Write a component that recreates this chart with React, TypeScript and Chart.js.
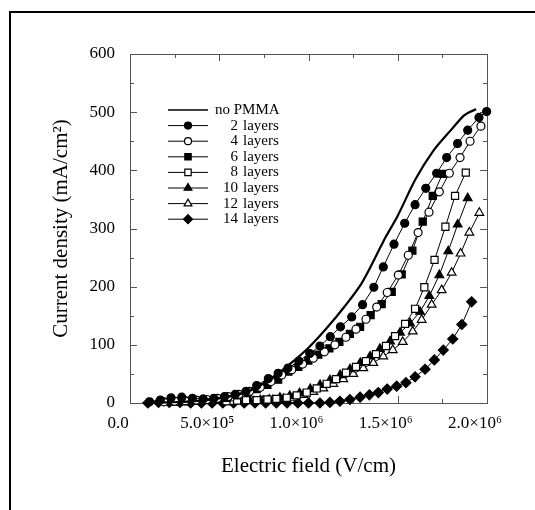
import React, { useEffect, useRef } from 'react';
import { Chart, registerables } from 'chart.js';
import { drawPoint } from 'chart.js/helpers';

Chart.register(...registerables);

const FONT = '"Liberation Serif", "Times New Roman", serif';

// X axis in units of 10^6 V/cm
const xTickLabels = ['0.0', '5.0×10⁵', '1.0×10⁶', '1.5×10⁶', '2.0×10⁶'];
const xMinorTicks = [0.25, 0.75, 1.25, 1.75];
const yMinorTicks = [50, 150, 250, 350, 450, 550];

const seriesLabels = ['no PMMA', '2 layers', '4 layers', '6 layers', '8 layers', '10 layers', '12 layers', '14 layers'];

const E0 = [0.1, 0.2, 0.3, 0.4, 0.5, 0.6, 0.7, 0.8, 0.9, 1.0, 1.1, 1.2, 1.3, 1.41, 1.43, 1.5, 1.6, 1.7, 1.8, 1.87, 1.9, 1.94];
const J0 = [0, 1, 2, 4, 8, 14, 25, 44, 68, 95, 128, 165, 207, 272, 284, 322, 385, 434, 470, 494, 500, 505];

const E2 = [0.11, 0.17, 0.23, 0.29, 0.35, 0.41, 0.47, 0.53, 0.59, 0.65, 0.71, 0.775, 0.83, 0.885, 0.946, 1.007, 1.064, 1.122, 1.179, 1.242, 1.303, 1.366, 1.419, 1.479, 1.539, 1.597, 1.657, 1.718, 1.774, 1.835, 1.892, 1.955, 1.998];
const J2 = [2, 5, 9, 10, 8, 7, 8, 11, 15, 20, 30, 42, 51, 60, 72, 85, 98, 114, 131, 148, 169, 199, 234, 273, 309, 341, 369, 395, 422, 446, 469, 491, 501];

const E4 = [0.19, 0.25, 0.31, 0.37, 0.43, 0.49, 0.55, 0.61, 0.67, 0.73, 0.79, 0.85, 0.906, 0.967, 1.027, 1.089, 1.148, 1.21, 1.266, 1.322, 1.382, 1.441, 1.503, 1.559, 1.614, 1.675, 1.733, 1.789, 1.849, 1.905, 1.966];
const J4 = [2, 3, 4, 5, 6, 8, 11, 15, 20, 27, 37, 48, 57, 67, 77, 88, 100, 113, 127, 144, 165, 190, 220, 254, 293, 328, 363, 395, 422, 450, 476];

const E6 = [0.25, 0.31, 0.37, 0.43, 0.48, 0.54, 0.6, 0.66, 0.71, 0.77, 0.83, 0.887, 0.943, 0.999, 1.055, 1.117, 1.173, 1.232, 1.289, 1.348, 1.41, 1.466, 1.522, 1.582, 1.64, 1.696, 1.751];
const J6 = [2, 3, 4, 5, 7, 9, 13, 18, 24, 31, 40, 54, 62, 73, 83, 94, 105, 119, 131, 151, 170, 191, 221, 262, 312, 356, 394];

const E8 = [0.54, 0.6, 0.65, 0.71, 0.77, 0.82, 0.878, 0.934, 0.99, 1.046, 1.102, 1.154, 1.21, 1.266, 1.322, 1.378, 1.434, 1.485, 1.541, 1.597, 1.649, 1.706, 1.767, 1.821, 1.881];
const J8 = [3, 4, 5, 5, 6, 7, 9, 13, 18, 25, 33, 41, 52, 62, 72, 84, 98, 115, 136, 162, 199, 246, 303, 356, 396];

const E10 = [0.61, 0.67, 0.73, 0.78, 0.84, 0.895, 0.95, 1.01, 1.065, 1.12, 1.177, 1.233, 1.29, 1.345, 1.4, 1.457, 1.513, 1.569, 1.625, 1.677, 1.733, 1.783, 1.836, 1.892];
const J10 = [3, 4, 5, 6, 9, 12, 17, 24, 31, 39, 48, 58, 69, 80, 93, 106, 121, 137, 157, 184, 220, 261, 307, 352];

const E12 = [0.575, 0.63, 0.69, 0.745, 0.8, 0.86, 0.915, 0.971, 1.027, 1.083, 1.139, 1.195, 1.251, 1.307, 1.363, 1.419, 1.472, 1.528, 1.584, 1.634, 1.69, 1.746, 1.802, 1.852, 1.901, 1.957];
const J12 = [2, 3, 3, 4, 5, 7, 9, 14, 19, 25, 33, 41, 50, 60, 69, 80, 91, 105, 123, 143, 169, 194, 224, 257, 293, 327];

const E14 = [0.1, 0.16, 0.22, 0.28, 0.34, 0.4, 0.46, 0.52, 0.58, 0.64, 0.7, 0.76, 0.82, 0.88, 0.94, 1.0, 1.064, 1.12, 1.176, 1.232, 1.289, 1.341, 1.391, 1.441, 1.494, 1.546, 1.597, 1.653, 1.705, 1.755, 1.808, 1.859, 1.914];
const J14 = [0, 1, 1, 1, 0, 0, 0, 0, 0, 0, 0, 0, 0, 0, 0, 0, 0, 1, 3, 6, 10, 14, 18, 24, 29, 35, 45, 58, 74, 91, 110, 135, 174];

const seriesE = [E0, E2, E4, E6, E8, E10, E12, E14];
const seriesJ = [J0, J2, J4, J6, J8, J10, J12, J14];
const pointStyles = ['line', 'circle', 'circle', 'rect', 'rect', 'triangle', 'triangle', 'rectRot'];
const pointFilled = [true, true, false, true, false, true, false, true];
const pointRadii = [0, 4, 4, 5, 5, 5, 5, 5];

const framePlugin = {
  id: 'frameTicks',
  beforeDatasetsDraw(chart: any) {
    const { ctx, chartArea: a, scales } = chart;
    const x = scales.x;
    const y = scales.y;
    ctx.save();
    ctx.strokeStyle = '#555';
    ctx.lineWidth = 1;
    ctx.strokeRect(Math.round(a.left) + 0.5, Math.round(a.top) + 0.5, Math.round(a.right - a.left), Math.round(a.bottom - a.top));
    const drawX = (v: number, len: number) => {
      const px = Math.round(x.getPixelForValue(v)) + 0.5;
      ctx.beginPath();
      ctx.moveTo(px, a.bottom); ctx.lineTo(px, a.bottom - len);
      ctx.moveTo(px, a.top); ctx.lineTo(px, a.top + len);
      ctx.stroke();
    };
    const drawY = (v: number, len: number) => {
      const py = Math.round(y.getPixelForValue(v)) + 0.5;
      ctx.beginPath();
      ctx.moveTo(a.left, py); ctx.lineTo(a.left + len, py);
      ctx.moveTo(a.right, py); ctx.lineTo(a.right - len, py);
      ctx.stroke();
    };
    x.ticks.forEach((t: any) => drawX(t.value, 7));
    xMinorTicks.forEach((v) => drawX(v, 4));
    y.ticks.forEach((t: any) => drawY(t.value, 7));
    yMinorTicks.forEach((v) => drawY(v, 4));
    ctx.restore();
  },
};

const legendPlugin = {
  id: 'insideLegend',
  afterDraw(chart: any) {
    const { ctx, chartArea: a } = chart;
    const left = a.left + 38;
    const top = a.top + 56;
    const rowH = 15.6;
    ctx.save();
    ctx.font = `15px ${FONT}`;
    ctx.textBaseline = 'middle';
    ctx.fillStyle = '#000';
    chart.data.datasets.forEach((ds: any, i: number) => {
      const yy = top + i * rowH;
      ctx.strokeStyle = '#000';
      ctx.lineWidth = i === 0 ? 1.5 : 1;
      ctx.beginPath();
      ctx.moveTo(left, yy);
      ctx.lineTo(left + 40, yy);
      ctx.stroke();
      if (pointRadii[i] > 0) {
        ctx.fillStyle = pointFilled[i] ? '#000' : '#fff';
        ctx.strokeStyle = '#000';
        ctx.lineWidth = 1.2;
        drawPoint(ctx, { pointStyle: pointStyles[i], radius: pointRadii[i] - 0.5, rotation: 0, borderWidth: 1.2 }, left + 20, yy);
      }
      ctx.fillStyle = '#000';
      const label: string = ds.label;
      if (i === 0) {
        ctx.textAlign = 'left';
        ctx.fillText(label, left + 47, yy);
      } else {
        const parts = label.split(' ');
        ctx.textAlign = 'right';
        ctx.fillText(parts[0], left + 70, yy);
        ctx.textAlign = 'left';
        ctx.fillText(parts[1], left + 75, yy);
      }
    });
    ctx.restore();
  },
};

export default function App() {
  const ref = useRef<HTMLCanvasElement | null>(null);
  useEffect(() => {
    if (!ref.current) return;
    const datasets = seriesLabels.map((label, i) => ({
      label,
      data: seriesE[i].map((e, k) => ({ x: e, y: seriesJ[i][k] })),
      borderColor: '#000',
      borderWidth: i === 0 ? 2.2 : 1,
      backgroundColor: pointFilled[i] ? '#000' : '#fff',
      pointStyle: pointStyles[i] === 'line' ? 'circle' : pointStyles[i],
      pointRadius: pointRadii[i],
      pointBorderWidth: 1.2,
      pointBorderColor: '#000',
      pointBackgroundColor: pointFilled[i] ? '#000' : '#fff',
      showLine: true,
      tension: i === 0 ? 0.3 : 0,
      clip: false as any,
    }));
    const chart = new Chart(ref.current, {
      type: 'line',
      data: { datasets },
      options: {
        responsive: false,
        animation: false,
        devicePixelRatio: 1,
        layout: { padding: { left: 30, top: 54, right: 48, bottom: 17 } },
        plugins: { legend: { display: false }, tooltip: { enabled: false } },
        scales: {
          x: {
            type: 'linear',
            min: 0,
            max: 2,
            afterFit: (s: any) => { s.height = 90; },
            grid: { display: false, drawTicks: false },
            border: { display: false },
            ticks: {
              stepSize: 0.5,
              autoSkip: false,
              maxRotation: 0,
              padding: 10,
              labelOffset: -12,
              color: '#000',
              font: { family: FONT, size: 17 },
              callback: (_v: any, idx: number) => xTickLabels[idx],
            },
            title: {
              display: true,
              text: 'Electric field (V/cm)',
              color: '#000',
              font: { family: FONT, size: 21 },
              padding: { top: 0, bottom: 14 },
            },
          },
          y: {
            type: 'linear',
            min: 0,
            max: 600,
            afterFit: (s: any) => { s.width = 100; },
            grid: { display: false, drawTicks: false },
            border: { display: false },
            ticks: {
              stepSize: 100,
              padding: 15,
              color: '#000',
              font: { family: FONT, size: 17 },
            },
            title: {
              display: true,
              text: 'Current density (mA/cm²)',
              color: '#000',
              font: { family: FONT, size: 21 },
              padding: { top: 19, bottom: 0 },
            },
          },
        },
      },
      plugins: [framePlugin, legendPlugin],
    });
    return () => chart.destroy();
  }, []);

  return (
    <>
      <div
        style={{
          position: 'fixed',
          left: 9,
          top: 11,
          width: 700,
          height: 700,
          borderTop: '2px solid #000',
          borderLeft: '2px solid #000',
          boxSizing: 'border-box',
        }}
      />
      <canvas
        ref={ref}
        width={535}
        height={510}
        style={{ position: 'fixed', left: 0, top: 0, width: 535, height: 510 }}
      />
    </>
  );
}
